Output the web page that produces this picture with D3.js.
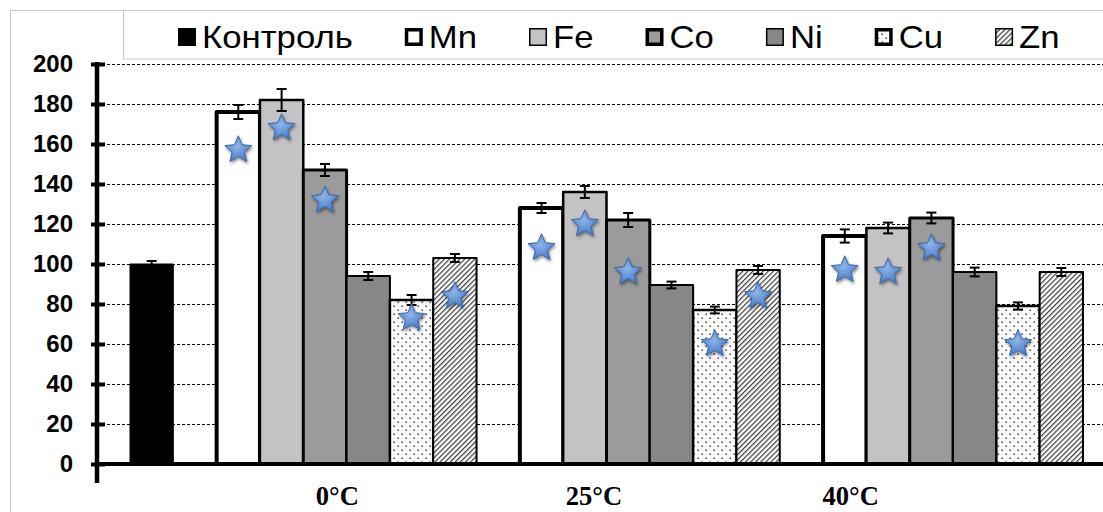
<!DOCTYPE html>
<html>
<head>
<meta charset="utf-8">
<script src="https://cdn.jsdelivr.net/npm/d3@7/dist/d3.min.js"></script>
<style>
  body { margin: 0; background: #fff; }
  svg { display: block; }
</style>
</head>
<body>
<script>
// ---- data ----
var temps = ["0°C", "25°C", "40°C"];
var metals = ["Mn", "Fe", "Co", "Ni", "Cu", "Zn"];
var legendNames = ["Контроль", "Mn", "Fe", "Co", "Ni", "Cu", "Zn"];
var controlValue = 100;
var controlError = 1.5;
// one row per temperature, one column per metal
var values = [
  [176, 182, 147, 94, 82, 103],
  [128, 136, 122, 89.5, 77, 97],
  [114, 118, 123, 96, 79, 96]
];
var errors = [
  [3.5, 5.5, 3, 2, 2.5, 2],
  [2.5, 3, 3.5, 1.7, 1.7, 2],
  [3.3, 2.7, 2.7, 2.2, 1.8, 2]
];
// star markers (null = no star)
var stars = [
  [157, 168, 132, null, 73, 84],
  [108, 120, 96, null, 60, 84],
  [97, 96, 108, null, 60, null]
];
var yTicks = [0, 20, 40, 60, 80, 100, 120, 140, 160, 180, 200];

// ---- styles per series (Контроль, Mn, Fe, Co, Ni, Cu, Zn) ----
var fills = ["#000", "#fff", "#c3c3c3", "#9b9b9b", "#878787", "url(#dots)", "url(#hatch)"];
var strokeW = [1, 4, 2.5, 3, 2, 2.5, 2];
var legendStrokeW = [1, 3.5, 1.5, 3.5, 1.5, 3.5, 1.5];

var W = 1103, H = 512;
var svg = d3.select("body").append("svg")
  .attr("width", W)
  .attr("height", H);

var defs = svg.append("defs");
defs.append("pattern")
  .attr("id", "dots")
  .attr("patternUnits", "userSpaceOnUse")
  .attr("width", 8).attr("height", 8)
  .call(function(p) {
    p.append("rect").attr("width", 8).attr("height", 8).attr("fill", "#fff");
    p.append("rect").attr("x", 1.5).attr("y", 1.5).attr("width", 1.4).attr("height", 1.4).attr("fill", "#222");
    p.append("rect").attr("x", 5.5).attr("y", 5.5).attr("width", 1.4).attr("height", 1.4).attr("fill", "#222");
  });
defs.append("pattern")
  .attr("id", "hatch")
  .attr("patternUnits", "userSpaceOnUse")
  .attr("width", 3.6).attr("height", 3.6)
  .attr("patternTransform", "rotate(45)")
  .call(function(p) {
    p.append("rect").attr("width", 3.6).attr("height", 3.6).attr("fill", "#fff");
    p.append("line").attr("x1", 0.6).attr("x2", 0.6).attr("y1", 0).attr("y2", 3.6)
      .attr("stroke", "#3a3a3a").attr("stroke-width", 1.2);
  });
var grad = defs.append("radialGradient").attr("id", "starFill")
  .attr("cx", "45%").attr("cy", "40%").attr("r", "60%");
grad.append("stop").attr("offset", "0%").attr("stop-color", "#8db5ea");
grad.append("stop").attr("offset", "100%").attr("stop-color", "#4a7bc4");
var shadow = defs.append("filter").attr("id", "shadow")
  .attr("x", "-50%").attr("y", "-50%").attr("width", "200%").attr("height", "200%");
shadow.append("feGaussianBlur").attr("in", "SourceAlpha").attr("stdDeviation", 1.6).attr("result", "b");
shadow.append("feOffset").attr("in", "b").attr("dx", 1).attr("dy", 2).attr("result", "o");
shadow.append("feComponentTransfer").attr("in", "o").attr("result", "s")
  .append("feFuncA").attr("type", "linear").attr("slope", 0.45);
var merge = shadow.append("feMerge");
merge.append("feMergeNode").attr("in", "s");
merge.append("feMergeNode").attr("in", "SourceGraphic");

// outer frame and legend box
svg.append("rect")
  .attr("x", 10.5).attr("y", 10.5)
  .attr("width", W).attr("height", H)
  .attr("fill", "none").attr("stroke", "#c8c8c8");
svg.append("rect")
  .attr("x", 123.5).attr("y", 10.5)
  .attr("width", W).attr("height", 48.5)
  .attr("fill", "#fff").attr("stroke", "#c8c8c8");

// ---- scales ----
var axisX = 97, plotRight = W;
var y = d3.scaleLinear().domain([0, 200]).range([464, 64]);
// one slot per bar, an empty slot between groups
var slot = d3.scaleBand().domain(d3.range(22)).range([130, 1083]).padding(0);
var labelX = d3.scaleBand().domain(temps).range([209, 979]);

var bars = [{s: 0, slot: 0, v: controlValue, e: controlError, star: null}];
temps.forEach(function(t, i) {
  metals.forEach(function(m, j) {
    bars.push({s: j + 1, slot: 2 + i * 7 + j, v: values[i][j], e: errors[i][j], star: stars[i][j]});
  });
});

// grid
svg.append("g")
  .selectAll("line")
  .data(yTicks.slice(1))
  .enter().append("line")
  .attr("x1", axisX).attr("x2", plotRight)
  .attr("y1", function(d) { return Math.round(y(d)) + 0.5; })
  .attr("y2", function(d) { return Math.round(y(d)) + 0.5; })
  .attr("stroke", "#000").attr("stroke-width", 1)
  .attr("stroke-dasharray", "3,2");

// bars
svg.append("g")
  .selectAll("rect")
  .data(bars)
  .enter().append("rect")
  .attr("x", function(d) { return slot(d.slot); })
  .attr("width", slot.bandwidth())
  .attr("y", function(d) { return y(d.v); })
  .attr("height", function(d) { return y(0) - y(d.v); })
  .attr("fill", function(d) { return fills[d.s]; })
  .attr("stroke", "#000")
  .attr("stroke-width", function(d) { return strokeW[d.s]; })
  .attr("stroke-linejoin", "round");

// x axis line
svg.append("line")
  .attr("x1", axisX).attr("x2", plotRight)
  .attr("y1", y(0)).attr("y2", y(0))
  .attr("stroke", "#000").attr("stroke-width", 4);

// y axis
var yAxis = svg.append("g")
  .attr("transform", "translate(" + axisX + ",0)")
  .call(d3.axisLeft(y).tickValues(yTicks).tickSizeInner(6).tickSizeOuter(0).tickPadding(18));
yAxis.select(".domain").remove();
yAxis.selectAll(".tick line")
  .attr("x1", -6).attr("x2", 8)
  .attr("stroke", "#000").attr("stroke-width", 4);
yAxis.selectAll(".tick text")
  .attr("fill", "#000")
  .style("font-family", "'Liberation Sans', Arial, sans-serif")
  .style("font-weight", "bold")
  .style("font-size", "24px");
svg.append("line")
  .attr("x1", axisX).attr("x2", axisX)
  .attr("y1", y(200) - 2).attr("y2", 483)
  .attr("stroke", "#000").attr("stroke-width", 4.5);

// error bars
var eb = svg.append("g").attr("stroke", "#000").attr("stroke-width", 2);
bars.forEach(function(d) {
  var cx = slot(d.slot) + slot.bandwidth() / 2;
  eb.append("line").attr("x1", cx).attr("x2", cx).attr("y1", y(d.v + d.e)).attr("y2", y(d.v - d.e));
  eb.append("line").attr("x1", cx - 5).attr("x2", cx + 5).attr("y1", y(d.v + d.e)).attr("y2", y(d.v + d.e));
  eb.append("line").attr("x1", cx - 5).attr("x2", cx + 5).attr("y1", y(d.v - d.e)).attr("y2", y(d.v - d.e));
});

// stars: five points, fatter than d3.symbolStar
var fatStar = {
  draw: function(context, size) {
    var r = Math.sqrt(size) * 0.9, ri = r * 0.46;
    for (var k = 0; k < 10; k++) {
      var rad = k % 2 ? ri : r, a = -Math.PI / 2 + k * Math.PI / 5;
      if (k === 0) context.moveTo(rad * Math.cos(a), rad * Math.sin(a));
      else context.lineTo(rad * Math.cos(a), rad * Math.sin(a));
    }
    context.closePath();
  }
};
var star = d3.symbol().type(fatStar).size(250);
svg.append("g")
  .selectAll("path")
  .data(bars.filter(function(d) { return d.star != null; }))
  .enter().append("path")
  .attr("d", star)
  .attr("transform", function(d) {
    return "translate(" + (slot(d.slot) + slot.bandwidth() / 2) + "," + y(d.star) + ")";
  })
  .attr("fill", "url(#starFill)")
  .attr("stroke", "#3d66a6").attr("stroke-width", 1)
  .attr("filter", "url(#shadow)");

// category labels
svg.append("g")
  .selectAll("text")
  .data(temps)
  .enter().append("text")
  .attr("transform", function(d) { return "translate(" + (labelX(d) + labelX.bandwidth() / 2) + ",505) scale(0.95,1)"; })
  .attr("text-anchor", "middle")
  .style("font-family", "'Liberation Serif', 'Times New Roman', serif")
  .style("font-weight", "bold")
  .style("font-size", "28px")
  .text(function(d) { return d; });

// legend
var lg = svg.append("g");
var lx = 178;
legendNames.forEach(function(name, i) {
  var sw = legendStrokeW[i];
  lg.append("rect")
    .attr("x", lx + sw / 2).attr("y", 28 + sw / 2)
    .attr("width", 18 - sw).attr("height", 18 - sw)
    .attr("fill", fills[i])
    .attr("stroke", "#000").attr("stroke-width", sw);
  var t = lg.append("text")
    .attr("transform", "translate(" + (lx + 24) + ",48) scale(1.12,1)")
    .style("font-family", "'Liberation Sans', Arial, sans-serif")
    .style("font-size", "31px")
    .attr("fill", "#000")
    .text(name);
  lx += 24 + t.node().getComputedTextLength() * 1.12 + 52;
});
</script>
</body>
</html>
